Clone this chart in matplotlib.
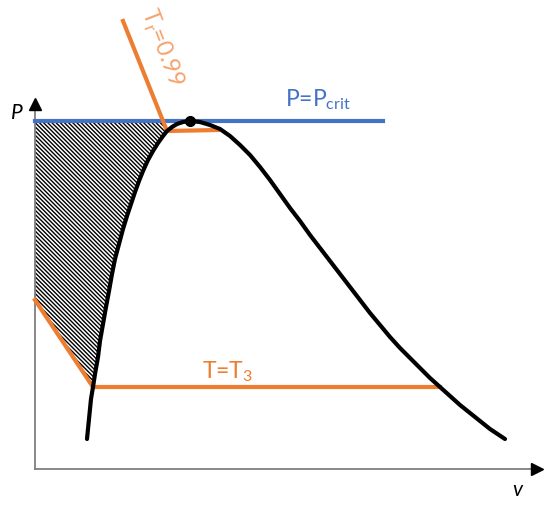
import numpy as np
import matplotlib.pyplot as plt

plt.rcParams['font.family'] = ['Lato', 'DejaVu Sans']
plt.rcParams['hatch.linewidth'] = 1.0

# saturation dome (sketch units), left branch bottom -> critical point
left_v = [52, 54, 56, 58, 60, 63, 65, 68, 71, 74, 77, 80, 84, 88, 92, 96, 100,
          104, 108, 113, 118, 123, 128, 132, 137, 142, 148, 155]
left_p = [30, 50, 70, 82, 95, 112, 128, 145, 162, 178, 195, 210, 225, 240, 253,
          265, 277, 288, 298, 309, 318, 326, 333, 338, 342, 345, 347, 348]
# right branch critical point -> bottom
right_v = [165, 175, 185, 195, 205, 215, 225, 235, 245, 255, 265, 275, 285, 295,
           305, 315, 325, 335, 345, 355, 365, 375, 385, 395, 405, 415, 425, 435,
           445, 455, 470]
right_p = [347, 344, 340, 333, 324, 314, 302, 289, 275, 261, 248, 234, 221, 208,
           195, 182, 169, 156, 144, 132, 121, 111, 101, 91, 82, 73, 64, 56, 48,
           40, 30]
crit_v, crit_p = 155, 348

# isotherms
t3_v = [0, 58, 405]
t3_p = [169, 82, 82]
tr_v = [88, 132, 183]
tr_p = [448, 338, 339]
pcrit_v = [0, 348]

orange = '#ED7D31'
blue = '#4472C4'

fig = plt.figure(figsize=(5.5, 5.1), dpi=100)
ax = fig.add_axes([0, 0, 1, 1])
ax.set_xlim(-35, 515)
ax.set_ylim(-40, 470)
ax.axis('off')

# hatched region: P=Pcrit on top, Tr line, left branch of dome, T3 line, P axis
i0 = left_p.index(82)
i1 = left_p.index(338)
x_top = tr_v[0] + (crit_p - tr_p[0]) * (tr_v[1] - tr_v[0]) / (tr_p[1] - tr_p[0])
hatch_v = [0, x_top] + left_v[i0:i1 + 1][::-1] + [0]
hatch_p = [crit_p, crit_p] + left_p[i0:i1 + 1][::-1] + [t3_p[0]]
ax.fill(hatch_v, hatch_p, facecolor='white', edgecolor='black', hatch='\\' * 8,
        linewidth=0, zorder=1)

# axes with arrows
ax.plot([0, 0], [0, 362], color='#7f7f7f', lw=1.3, zorder=2)
ax.plot([0, 498], [0, 0], color='#7f7f7f', lw=1.3, zorder=2)
ax.plot(0, 365, marker='^', color='black', markersize=9, zorder=3)
ax.plot(502, 0, marker='>', color='black', markersize=9, zorder=3)
ax.text(-18, 357, 'P', fontsize=15, style='italic', ha='center', va='center')
ax.text(482, -20, 'v', fontsize=15, style='italic', ha='center', va='center')

ax.plot(pcrit_v, [crit_p, crit_p], color=blue, lw=3, zorder=3)
ax.text(250, 370, 'P=P$_{\\mathregular{crit}}$', color=blue, fontsize=16.5,
        ha='left', va='center')

ax.plot(t3_v, t3_p, color=orange, lw=3, zorder=3)
ax.text(167, 92, 'T=T$_{\\mathregular{3}}$', color=orange, fontsize=16.5,
        ha='left', va='baseline')

ax.plot(tr_v, tr_p, color=orange, lw=3, zorder=3, solid_joinstyle='miter')
ax.text(106, 458, 'T$_{\\mathregular{r}}$=0.99', color='#F6A26C', fontsize=17,
        rotation=-69, rotation_mode='anchor', ha='left', va='baseline')

ax.plot(left_v + right_v, left_p + right_p, color='black', lw=3, zorder=4,
        solid_capstyle='round', solid_joinstyle='round')
ax.plot(crit_v, crit_p, 'o', color='black', markersize=7, zorder=5)

fig.savefig('out.png', dpi=100)
